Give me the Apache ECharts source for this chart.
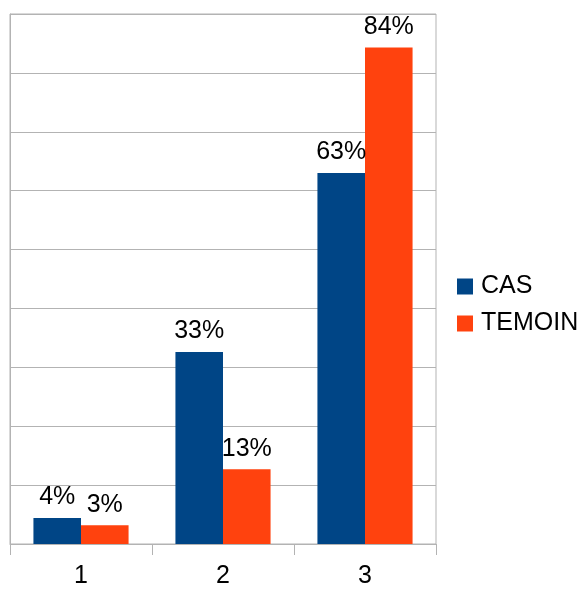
<!DOCTYPE html>
<html>
<head>
<meta charset="utf-8">
<script src="https://cdn.jsdelivr.net/npm/echarts@6/dist/echarts.min.js"></script>
<style>html,body{margin:0;padding:0;background:#fff}#c{width:579px;height:589px}</style>
</head>
<body>
<div id="c"></div>
<script>
var categories = ['1', '2', '3'];
var seriesNames = ['CAS', 'TEMOIN'];
var casValues = [4.4, 32.6, 63.0];
var temoinValues = [3.2, 12.7, 84.3];

var chart = echarts.init(document.getElementById('c'), null, {renderer: 'canvas'});
var font = 'Liberation Sans';
var gray = '#b3b3b3';
function lbl() {
  return {
    show: true, position: 'top', distance: 8,
    color: '#000', fontSize: 25, fontFamily: font,
    formatter: function (p) { return Math.round(p.value) + '%'; }
  };
}
chart.setOption({
  animation: false,
  backgroundColor: '#fff',
  grid: {left: 10, top: 14, width: 426, height: 532, show: true, borderColor: gray, borderWidth: 1, containLabel: false},
  legend: {
    orient: 'vertical', left: 457, top: 274, padding: 0,
    itemWidth: 16, itemHeight: 16, itemGap: 12,
    icon: 'rect',
    textStyle: {fontSize: 25, fontFamily: font, color: '#000', padding: [0, 0, 0, 3]},
    data: seriesNames
  },
  xAxis: {
    type: 'category', data: categories,
    axisLine: {show: true, lineStyle: {color: gray, width: 1}},
    axisTick: {show: true, length: 11, lineStyle: {color: gray}},
    axisLabel: {fontSize: 25, fontFamily: font, color: '#000', margin: 20}
  },
  yAxis: {
    type: 'value', min: 0, max: 90, interval: 10,
    axisLabel: {show: false},
    axisLine: {show: true, lineStyle: {color: gray}},
    axisTick: {show: false},
    splitLine: {show: true, lineStyle: {color: gray, width: 1}}
  },
  series: [
    {name: seriesNames[0], type: 'bar', data: casValues, itemStyle: {color: '#004586'},
     barGap: '0%', barCategoryGap: '33%', label: lbl()},
    {name: seriesNames[1], type: 'bar', data: temoinValues, itemStyle: {color: '#ff420e'},
     barGap: '0%', barCategoryGap: '33%', label: lbl()}
  ]
});
</script>
</body>
</html>
